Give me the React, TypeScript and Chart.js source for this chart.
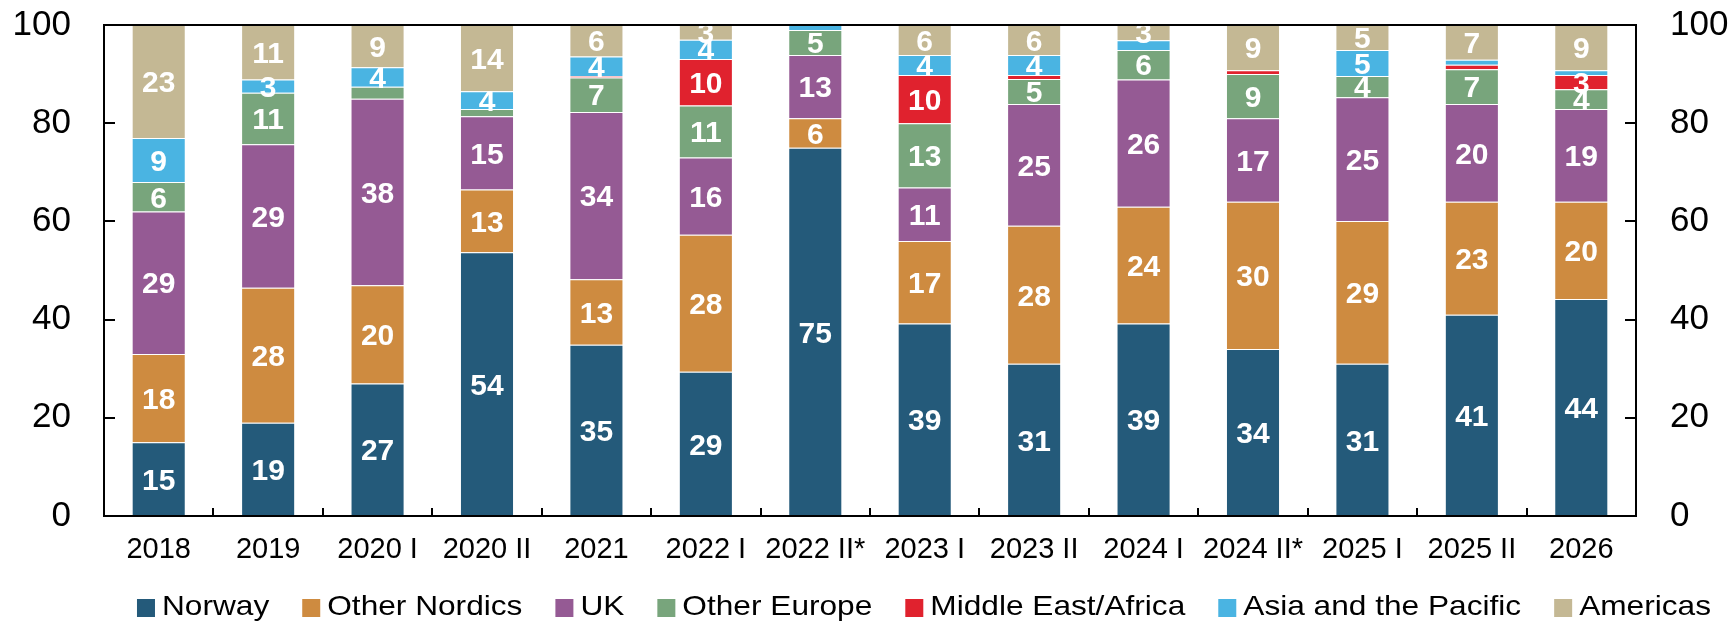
import React, { useEffect, useRef } from 'react';
import { Chart, registerables } from 'chart.js';

Chart.register(...registerables);

const categories = ['2018', '2019', '2020 I', '2020 II', '2021', '2022 I', '2022 II*', '2023 I', '2023 II', '2024 I', '2024 II*', '2025 I', '2025 II', '2026'];
const norway = [15, 19, 27, 53.7, 34.9, 29.4, 75, 39.2, 31, 39.2, 34, 31, 41, 44.2];
const otherNordics = [18, 27.5, 20, 12.8, 13.3, 27.9, 6, 16.8, 28.1, 23.8, 30, 29.1, 23, 19.8];
const uk = [29, 29.2, 38, 14.9, 34.1, 15.7, 12.9, 10.9, 24.8, 25.9, 17, 25.2, 19.9, 18.9];
const otherEurope = [6, 10.5, 2.4, 1.5, 7, 10.6, 5.1, 13.1, 5.1, 6, 9, 4.3, 7.1, 4];
const middleEastAfrica = [0, 0, 0, 0, 0.3, 9.5, 0, 9.8, 0.8, 0, 0.8, 0, 0.9, 2.9];
const asiaPacific = [9, 2.7, 4, 3.6, 4, 3.9, 1, 4.1, 4.1, 2, 0, 5.3, 1, 1];
const americas = [23, 11.1, 8.6, 13.5, 6.4, 3.0, 0, 6.1, 6.1, 3.1, 9.2, 5.1, 7.1, 9.2];

const seriesNames = ['Norway', 'Other Nordics', 'UK', 'Other Europe', 'Middle East/Africa', 'Asia and the Pacific', 'Americas'];
const seriesColors = ['#245a7a', '#ce8b40', '#955a94', '#78a57c', '#e0222e', '#4ab4e2', '#c4b894'];
const seriesData = [norway, otherNordics, uk, otherEurope, middleEastAfrica, asiaPacific, americas];
const yTicks = [0, 20, 40, 60, 80, 100];

const FONT = '"Liberation Sans", Arial, Helvetica, sans-serif';

const labelsPlugin = {
  id: 'segLabels',
  afterDatasetsDraw(chart: any) {
    const ctx = chart.ctx;
    ctx.save();
    ctx.fillStyle = '#ffffff';
    ctx.font = `bold 30px ${FONT}`;
    ctx.textAlign = 'center';
    ctx.textBaseline = 'alphabetic';
    chart.data.datasets.forEach((ds: any, di: number) => {
      const meta = chart.getDatasetMeta(di);
      meta.data.forEach((el: any, i: number) => {
        const v = ds.data[i];
        const r = Math.round(v);
        if (r < 3) return;
        const p = el.getProps(['x', 'y', 'base'], true);
        const cy = (p.y + p.base) / 2;
        ctx.fillText(String(r), p.x, cy + 10.7);
      });
    });
    ctx.restore();
  },
};

const framePlugin = {
  id: 'frame',
  afterDraw(chart: any) {
    const ctx = chart.ctx;
    const { left, right, top, bottom } = chart.chartArea;
    ctx.save();
    ctx.strokeStyle = '#000';
    ctx.lineWidth = 2;
    ctx.strokeRect(left, top, right - left, bottom - top);
    const ys = chart.scales.y;
    ctx.beginPath();
    yTicks.forEach((v) => {
      const py = Math.round(ys.getPixelForValue(v));
      ctx.moveTo(left, py);
      ctx.lineTo(left + 11, py);
      ctx.moveTo(right, py);
      ctx.lineTo(right - 11, py);
    });
    const xs = chart.scales.x;
    for (let i = 1; i < categories.length; i++) {
      const px = Math.round((xs.getPixelForValue(i - 1) + xs.getPixelForValue(i)) / 2);
      ctx.moveTo(px, bottom);
      ctx.lineTo(px, bottom - 8);
    }
    ctx.stroke();

    // legend
    const sx = 1.13;
    ctx.font = `28px ${FONT}`;
    ctx.textAlign = 'left';
    ctx.textBaseline = 'alphabetic';
    const items = chart.data.datasets.map((d: any) => ({
      label: d.label,
      color: d.backgroundColor,
      w: ctx.measureText(d.label).width * sx,
    }));
    const box = 18;
    const gapBox = 7;
    const gapItem = 33;
    const total = items.reduce((s: number, it: any) => s + box + gapBox + it.w, 0) + gapItem * (items.length - 1);
    let x = 924 - total / 2;
    items.forEach((it: any) => {
      ctx.fillStyle = it.color;
      ctx.fillRect(x, 599, box, box);
      ctx.fillStyle = '#000';
      ctx.save();
      ctx.translate(x + box + gapBox, 615);
      ctx.scale(sx, 1);
      ctx.fillText(it.label, 0, 0);
      ctx.restore();
      x += box + gapBox + it.w + gapItem;
    });
    ctx.restore();
  },
};

const zeroPadV = (s: any) => {
  s.paddingTop = 0;
  s.paddingBottom = 0;
};

export default function App() {
  const ref = useRef<HTMLCanvasElement | null>(null);

  useEffect(() => {
    if (!ref.current) return;
    Chart.defaults.font.family = FONT;
    const chart = new Chart(ref.current, {
      type: 'bar',
      data: {
        labels: categories,
        datasets: seriesNames.map((name, i) => ({
          label: name,
          data: seriesData[i],
          backgroundColor: seriesColors[i],
          borderColor: 'rgba(255,255,255,0.3)',
          borderWidth: 1,
          barPercentage: 0.494,
          categoryPercentage: 1,
          yAxisID: 'y',
        })),
      },
      options: {
        animation: false,
        responsive: true,
        maintainAspectRatio: false,
        layout: { padding: { top: 25, bottom: 0, left: 0, right: 0 } },
        plugins: {
          legend: { display: false },
          tooltip: { enabled: false },
        },
        scales: {
          x: {
            stacked: true,
            grid: { display: false, drawTicks: false },
            border: { display: false },
            ticks: {
              color: '#000',
              font: { size: 29, family: FONT },
              padding: 17,
              maxRotation: 0,
              autoSkip: false,
            },
            afterFit: (s: any) => {
              s.height = 107;
              s.paddingLeft = 0;
              s.paddingRight = 0;
            },
          },
          y: {
            stacked: true,
            position: 'left',
            min: 0,
            max: 100,
            grid: { display: false, drawTicks: false },
            border: { display: false },
            ticks: {
              stepSize: 20,
              color: '#000',
              font: { size: 35, family: FONT },
              padding: 33,
            },
            afterFit: (s: any) => {
              s.width = 104;
              zeroPadV(s);
            },
          },
          y2: {
            position: 'right',
            min: 0,
            max: 100,
            grid: { display: false, drawTicks: false },
            border: { display: false },
            ticks: {
              stepSize: 20,
              color: '#000',
              font: { size: 35, family: FONT },
              padding: 34,
            },
            afterFit: (s: any) => {
              s.width = 95;
              zeroPadV(s);
            },
          },
        },
      } as any,
      plugins: [labelsPlugin, framePlugin],
    });
    return () => chart.destroy();
  }, []);

  return (
    <div style={{ position: 'fixed', left: 0, top: 0, width: 1731, height: 623, background: '#fff' }}>
      <canvas ref={ref} style={{ display: 'block', width: '100%', height: '100%' }} />
    </div>
  );
}
